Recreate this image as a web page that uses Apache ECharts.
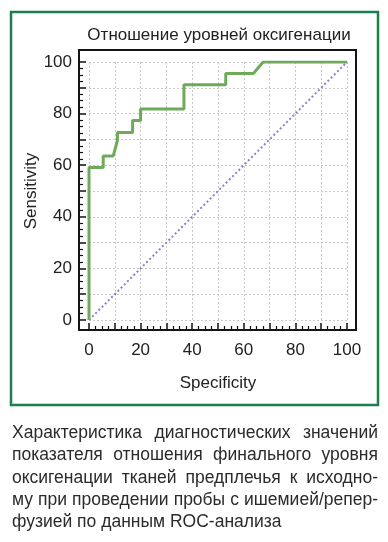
<!DOCTYPE html>
<html>
<head>
<meta charset="utf-8">
<script src="https://cdn.jsdelivr.net/npm/echarts@6/dist/echarts.min.js"></script>
<style>
html,body{margin:0;padding:0;background:#fff;}
#chart{width:388px;height:542px;}
</style>
</head>
<body>
<div id="chart"></div>
<script>
// ---- data ----
var chartTitle = 'Отношение уровней оксигенации';
var xAxisName = 'Specificity';
var yAxisName = 'Sensitivity';
var rocX = [0, 0, 5.5, 5.5, 9.4, 11, 11, 16.9, 16.9, 20, 20, 36.8, 36.8, 53, 53, 63.7, 65.5, 67.5, 100];
var rocY = [0, 59.1, 59.1, 63.6, 63.6, 69.5, 72.7, 72.7, 77.3, 77.3, 81.8, 81.8, 91.2, 91.2, 95.5, 95.5, 97.7, 100, 100];
var refX = [0, 100];
var refY = [0, 100];
var tickLabels = [0, 20, 40, 60, 80, 100];
var captionLines = [
  'Характеристика диагностических значений',
  'показателя отношения финального уровня',
  'оксигенации тканей предплечья к исходно-',
  'му при проведении пробы с ишемией/репер-',
  'фузией по данным ROC-анализа'
];

var FONT = '"Liberation Sans", Arial, sans-serif';
var chart = echarts.init(document.getElementById('chart'), null, {renderer: 'canvas'});

function pairs(xs, ys) { return xs.map(function (x, i) { return [x, ys[i]]; }); }

// caption layout (justified)
var cv = document.createElement('canvas').getContext('2d');
var capFont = '17.5px ' + FONT;
cv.font = capFont;
var capLeft = 12, capRight = 378, capY0 = 433, capDy = 22.4;
var captionEls = [];
captionLines.forEach(function (line, li) {
  var words = line.split(' ');
  var y = capY0 + li * capDy;
  var justify = li < captionLines.length - 1;
  var widths = words.map(function (w) { return cv.measureText(w).width; });
  var sum = widths.reduce(function (a, b) { return a + b; }, 0);
  var gap = justify && words.length > 1 ? (capRight - capLeft - sum) / (words.length - 1) : cv.measureText(' ').width;
  var x = capLeft;
  words.forEach(function (w, i) {
    captionEls.push({
      type: 'text', silent: true,
      style: {text: w, x: x, y: y, font: capFont, fill: '#2b2b2b', textVerticalAlign: 'middle', textAlign: 'left'}
    });
    x += widths[i] + gap;
  });
});

var axisCommon = {
  type: 'value', min: 0, max: 100, interval: 10, offset: 10,
  axisLine: {show: true, onZero: false, lineStyle: {color: '#151515', width: 2}},
  axisTick: {show: true, inside: true, length: 7, lineStyle: {color: '#111', width: 1.5}},
  minorTick: {show: true, splitNumber: 4, length: 4, lineStyle: {color: '#111', width: 1.2}},
  splitLine: {show: true, lineStyle: {color: '#c9c9c9', width: 1, type: [2, 2]}},
  axisLabel: {
    fontFamily: FONT, fontSize: 17, color: '#222',
    formatter: function (v) { return tickLabels.indexOf(v) >= 0 ? String(v) : ''; }
  },
  nameLocation: 'middle', nameMoveOverlap: false,
  nameTextStyle: {fontFamily: FONT, fontSize: 17, color: '#222'}
};

var option = {
  animation: false,
  backgroundColor: '#fff',
  title: {
    text: chartTitle, left: 214, top: 22, textAlign: 'center',
    textStyle: {fontFamily: FONT, fontSize: 17, fontWeight: 'normal', color: '#222'}
  },
  grid: {left: 89, right: 41, top: 62, bottom: 222, containLabel: false},
  xAxis: Object.assign({}, axisCommon, {
    name: xAxisName, nameGap: 45,
    axisLabel: Object.assign({}, axisCommon.axisLabel, {margin: 12})
  }),
  yAxis: Object.assign({}, axisCommon, {
    name: yAxisName, nameGap: 39, nameRotate: 90,
    axisLabel: Object.assign({}, axisCommon.axisLabel, {margin: 7})
  }),
  series: [
    {
      type: 'line', data: pairs(refX, refY), symbol: 'none', silent: true,
      lineStyle: {color: '#8a7fd2', width: 2, type: [2, 2.5]}, z: 2
    },
    {
      type: 'line', data: pairs(rocX, rocY), symbol: 'none', silent: true,
      lineStyle: {color: '#6daa5a', width: 3}, z: 3
    }
  ],
  graphic: [
    {type: 'rect', silent: true, z: 10,
     shape: {x: 79, y: 50, width: 277, height: 280},
     style: {fill: 'none', stroke: '#151515', lineWidth: 2}},
    {type: 'rect', silent: true, z: 10,
     shape: {x: 11, y: 12, width: 367, height: 393},
     style: {fill: 'none', stroke: '#1a7f4f', lineWidth: 2.5}}
  ].concat(captionEls)
};
chart.setOption(option);
</script>
</body>
</html>
